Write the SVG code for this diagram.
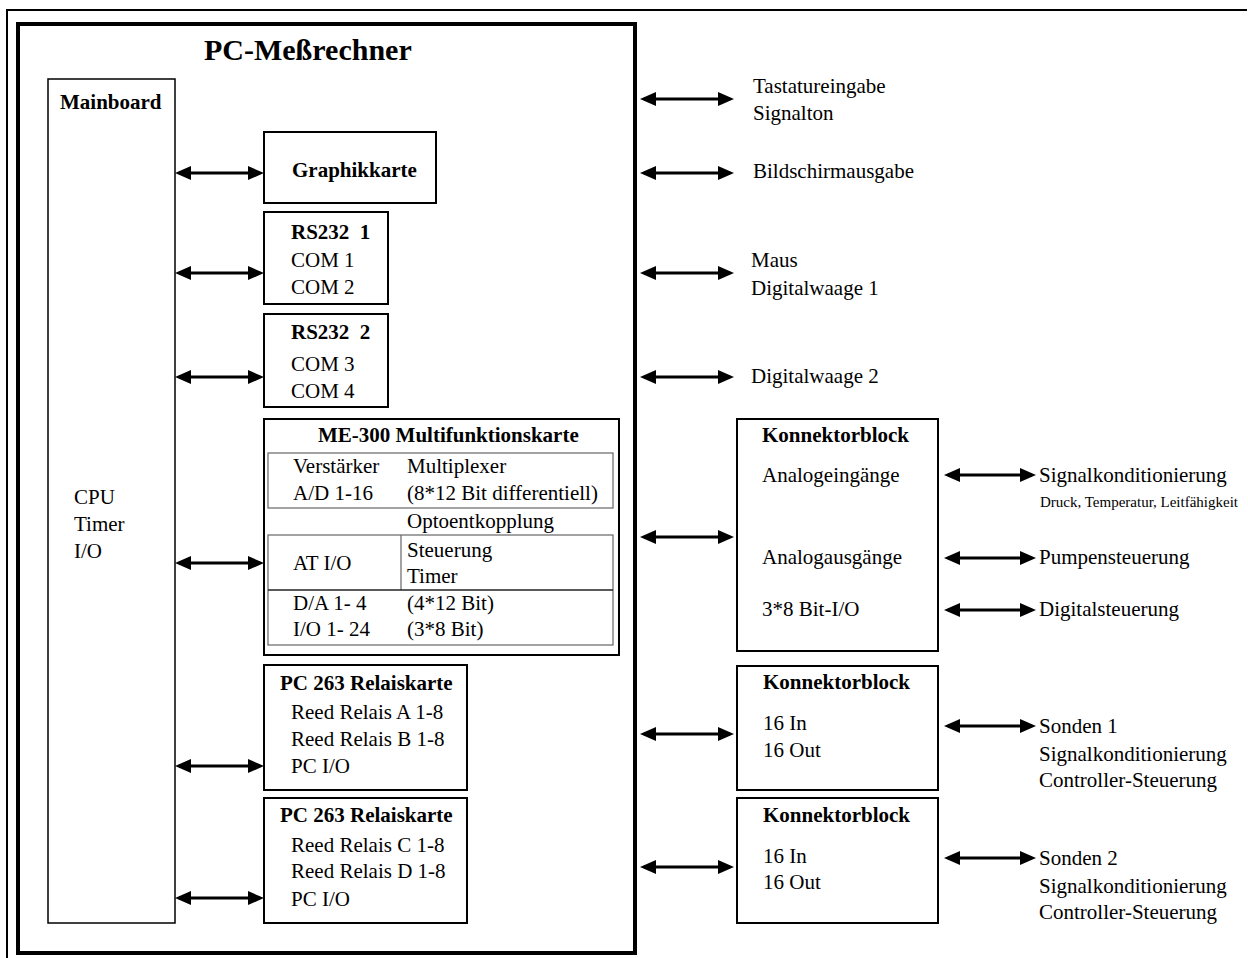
<svg xmlns="http://www.w3.org/2000/svg" width="1248" height="958" viewBox="0 0 1248 958">
<style>
text{font-family:"Liberation Serif","Times New Roman",serif;font-size:21px;fill:#000}
.b{font-weight:bold}
.t{font-weight:bold;font-size:30px}
.s{font-size:15px}
.box{fill:#fff;stroke:#000;stroke-width:2}
.grid{fill:none;stroke:#666;stroke-width:1.2}
.con line{stroke:#000;stroke-width:3;marker-start:url(#ah);marker-end:url(#ah)}
</style>
<defs>
<marker id="ah" markerUnits="userSpaceOnUse" markerWidth="17" markerHeight="15" refX="12" refY="7" orient="auto-start-reverse" viewBox="0 0 17 15">
<path d="M0,0 L16,7 L0,14 z" fill="#000"/>
</marker>
</defs>
<rect width="1248" height="958" fill="#fff"/>
<g id="frame">
<path d="M7,958 V10 H1247" fill="none" stroke="#000" stroke-width="2"/>
<rect x="18" y="24" width="617" height="929" fill="none" stroke="#000" stroke-width="4"/>
<text class="t" x="204" y="60">PC-Meßrechner</text>
</g>
<g id="mainboard">
<rect class="box" x="48" y="79" width="127" height="844" style="stroke-width:1.5"/>
<text class="b" x="60" y="109">Mainboard</text>
<text x="74" y="504">CPU</text>
<text x="74" y="531">Timer</text>
<text x="74" y="558">I/O</text>
</g>
<g id="graphikkarte">
<rect class="box" x="264" y="132" width="172" height="71"/>
<text class="b" x="292" y="177">Graphikkarte</text>
</g>
<g id="rs232-1">
<rect class="box" x="264" y="212" width="124" height="92"/>
<text class="b" x="291" y="239" xml:space="preserve">RS232  1</text>
<text x="291" y="267">COM 1</text>
<text x="291" y="294">COM 2</text>
</g>
<g id="rs232-2">
<rect class="box" x="264" y="314" width="124" height="93"/>
<text class="b" x="291" y="339" xml:space="preserve">RS232  2</text>
<text x="291" y="371">COM 3</text>
<text x="291" y="398">COM 4</text>
</g>
<g id="me300">
<rect class="box" x="264" y="419" width="355" height="236"/>
<text class="b" x="318" y="442">ME-300 Multifunktionskarte</text>
<rect class="grid" x="268" y="453" width="345" height="55"/>
<rect class="grid" x="268" y="535" width="345" height="110"/>
<line x1="401" y1="535" x2="401" y2="590" stroke="#666" stroke-width="1.2"/>
<line x1="268" y1="590" x2="613" y2="590" stroke="#222" stroke-width="1.5"/>
<text x="293" y="473">Verstärker</text>
<text x="407" y="473">Multiplexer</text>
<text x="293" y="500">A/D 1-16</text>
<text x="407" y="500">(8*12 Bit differentiell)</text>
<text x="407" y="528">Optoentkopplung</text>
<text x="293" y="570">AT I/O</text>
<text x="407" y="557">Steuerung</text>
<text x="407" y="583">Timer</text>
<text x="293" y="610">D/A 1- 4</text>
<text x="407" y="610">(4*12 Bit)</text>
<text x="293" y="636">I/O 1- 24</text>
<text x="407" y="636">(3*8 Bit)</text>
</g>
<g id="relais-1">
<rect class="box" x="264" y="665" width="203" height="125"/>
<text class="b" x="280" y="690">PC 263 Relaiskarte</text>
<text x="291" y="719">Reed Relais A 1-8</text>
<text x="291" y="746">Reed Relais B 1-8</text>
<text x="291" y="773">PC I/O</text>
</g>
<g id="relais-2">
<rect class="box" x="264" y="798" width="203" height="125"/>
<text class="b" x="280" y="822">PC 263 Relaiskarte</text>
<text x="291" y="852">Reed Relais C 1-8</text>
<text x="291" y="878">Reed Relais D 1-8</text>
<text x="291" y="906">PC I/O</text>
</g>
<g id="konnektor-1">
<rect class="box" x="737" y="419" width="201" height="232"/>
<text class="b" x="762" y="442">Konnektorblock</text>
<text x="762" y="482">Analogeingänge</text>
<text x="762" y="564">Analogausgänge</text>
<text x="762" y="616">3*8 Bit-I/O</text>
</g>
<g id="konnektor-2">
<rect class="box" x="737" y="666" width="201" height="124"/>
<text class="b" x="763" y="689">Konnektorblock</text>
<text x="763" y="730">16 In</text>
<text x="763" y="757">16 Out</text>
</g>
<g id="konnektor-3">
<rect class="box" x="737" y="798" width="201" height="125"/>
<text class="b" x="763" y="822">Konnektorblock</text>
<text x="763" y="863">16 In</text>
<text x="763" y="889">16 Out</text>
</g>
<g id="external">
<text x="753" y="93">Tastatureingabe</text>
<text x="753" y="120">Signalton</text>
<text x="753" y="178">Bildschirmausgabe</text>
<text x="751" y="267">Maus</text>
<text x="751" y="295">Digitalwaage 1</text>
<text x="751" y="383">Digitalwaage 2</text>
<text x="1039" y="482">Signalkonditionierung</text>
<text class="s" x="1040" y="507">Druck, Temperatur, Leitfähigkeit</text>
<text x="1039" y="564">Pumpensteuerung</text>
<text x="1039" y="616">Digitalsteuerung</text>
<text x="1039" y="733">Sonden 1</text>
<text x="1039" y="761">Signalkonditionierung</text>
<text x="1039" y="787">Controller-Steuerung</text>
<text x="1039" y="865">Sonden 2</text>
<text x="1039" y="893">Signalkonditionierung</text>
<text x="1039" y="919">Controller-Steuerung</text>
</g>
<g id="connectors" class="con">
<line x1="179" y1="173" x2="260" y2="173"/>
<line x1="179" y1="273" x2="260" y2="273"/>
<line x1="179" y1="377" x2="260" y2="377"/>
<line x1="179" y1="563" x2="260" y2="563"/>
<line x1="179" y1="766" x2="260" y2="766"/>
<line x1="179" y1="898" x2="260" y2="898"/>
<line x1="644" y1="99" x2="730" y2="99"/>
<line x1="644" y1="173" x2="730" y2="173"/>
<line x1="644" y1="273" x2="730" y2="273"/>
<line x1="644" y1="377" x2="730" y2="377"/>
<line x1="644" y1="537" x2="730" y2="537"/>
<line x1="644" y1="734" x2="730" y2="734"/>
<line x1="644" y1="867" x2="730" y2="867"/>
<line x1="948" y1="475" x2="1032" y2="475"/>
<line x1="948" y1="558" x2="1032" y2="558"/>
<line x1="948" y1="610" x2="1032" y2="610"/>
<line x1="948" y1="726" x2="1032" y2="726"/>
<line x1="948" y1="858" x2="1032" y2="858"/>
</g>
</svg>
